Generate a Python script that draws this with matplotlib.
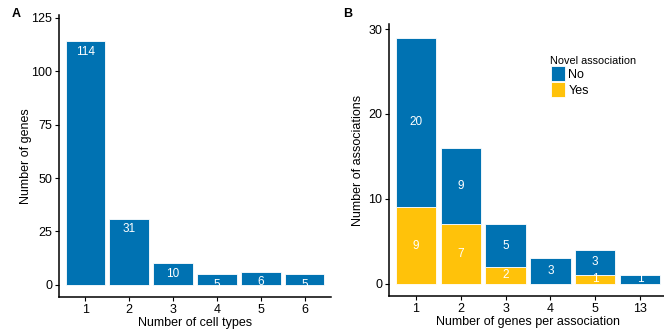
import matplotlib
matplotlib.use('Agg')
import matplotlib.pyplot as plt
import numpy as np

plt.rcParams['font.family'] = ['Liberation Sans', 'DejaVu Sans']

# panel A data
cell_types = ['1', '2', '3', '4', '5', '6']
n_genes = [114, 31, 10, 5, 6, 5]

# panel B data
genes_per_assoc = ['1', '2', '3', '4', '5', '13']
novel_no = [20, 9, 5, 3, 3, 1]
novel_yes = [9, 7, 2, 0, 1, 0]

blue = '#0072B2'
yellow = '#FFC20A'

fig = plt.figure(figsize=(6.64, 3.33), dpi=100)

def style(ax):
    for s in ['top', 'right']:
        ax.spines[s].set_visible(False)
    for s in ['left', 'bottom']:
        ax.spines[s].set_linewidth(1.1)
    ax.tick_params(axis='both', length=3, width=0.8, labelsize=9, pad=2, colors='black')

# ---- A
axA = fig.add_axes([59/664, 1-297/333, (331-59)/664, (297-15)/333])
xa = np.arange(len(cell_types))
axA.bar(xa, n_genes, width=0.9, color=blue, edgecolor='white', linewidth=0.6)
for x, v in zip(xa, n_genes):
    axA.annotate(str(v), (x, v), xytext=(0, -7.5), textcoords='offset points',
                 ha='center', va='center', color='white', fontsize=8.5)
axA.set_xlim(-0.6, len(cell_types)-0.4)
axA.set_ylim(-5.7, 126.4)
axA.set_xticks(xa)
axA.set_xticklabels(cell_types)
axA.set_yticks([0, 25, 50, 75, 100, 125])
axA.set_xlabel('Number of cell types', fontsize=9, labelpad=1)
axA.set_ylabel('Number of genes', fontsize=9)
axA.yaxis.set_label_coords(-0.099, 0.5)
style(axA)

# ---- B
axB = fig.add_axes([389/664, 1-296/333, (667-389)/664, (296-24)/333])
xb = np.arange(len(genes_per_assoc))
axB.bar(xb, novel_yes, width=0.9, color=yellow, edgecolor='white', linewidth=0.6, label='Yes')
axB.bar(xb, novel_no, width=0.9, bottom=novel_yes, color=blue, edgecolor='white', linewidth=0.6, label='No')
for x, y, n in zip(xb, novel_yes, novel_no):
    if y > 0:
        axB.text(x, y/2, str(y), ha='center', va='center', color='white', fontsize=8.5)
    if n > 0:
        axB.text(x, y + n/2, str(n), ha='center', va='center', color='white', fontsize=8.5)
axB.set_xlim(-0.6, len(genes_per_assoc)-0.4)
axB.set_ylim(-1.45, 30.6)
axB.set_xticks(xb)
axB.set_xticklabels(genes_per_assoc)
axB.set_yticks([0, 10, 20, 30])
axB.set_xlabel('Number of genes per association', fontsize=9, labelpad=1)
axB.set_ylabel('Number of associations', fontsize=9)
axB.yaxis.set_label_coords(-0.09, 0.5)
style(axB)

h, l = axB.get_legend_handles_labels()
leg = axB.legend(h[::-1], l[::-1], title='Novel association', loc='upper left',
                 bbox_to_anchor=(542/664, 1-47/333), bbox_transform=fig.transFigure,
                 frameon=False, fontsize=9, title_fontsize=7.8, handlelength=1.13,
                 handleheight=1.52, labelspacing=0.04, handletextpad=0.3,
                 borderpad=0.18, alignment='left')

fig.text(12/664, 1-14/333, 'A', fontsize=9, fontweight='bold', va='center')
fig.text(343/664, 1-14/333, 'B', fontsize=9, fontweight='bold', va='center')

fig.savefig('out.png', dpi=100)
